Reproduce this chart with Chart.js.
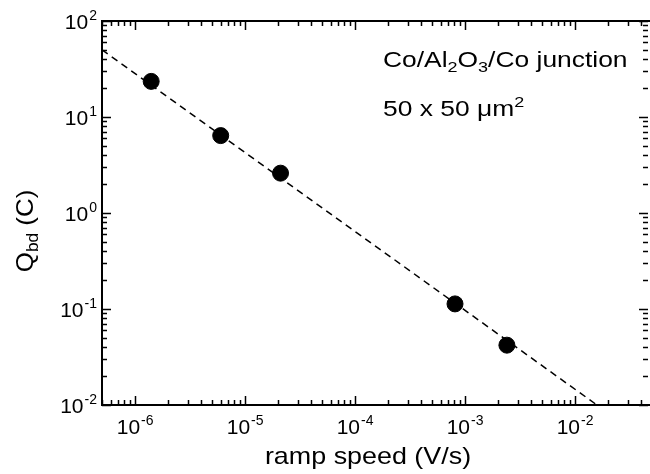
<!DOCTYPE html>
<html>
<head>
    <title>Qbd vs ramp speed</title>
    <script src="https://cdn.jsdelivr.net/npm/chart.js"></script>
    <style>
        body { margin: 0; background: #fff; }
    </style>
</head>
<body>
<canvas id="myChart" width="650" height="474"></canvas>
<script>
    // measured points
    var rampSpeed = [1.4e-6, 6.0e-6, 2.1e-5, 8.1e-4, 2.4e-3];
    var qbd = [23.5, 6.4, 2.6, 0.113, 0.042];
    // dashed fit line, end points
    var fitX = [5e-7, 1.58e-2];
    var fitY = [50, 0.01];
    // decade labels (powers of ten)
    var xTickExp = [-6, -5, -4, -3, -2];
    var yTickExp = [-2, -1, 0, 1, 2];

    var FONT = 'Liberation Sans, Arial, Helvetica, sans-serif';

    // draws a list of [text, size, dy] pieces in a row, stretched by sx, returns end x
    function drawRuns(ctx, runs, x, y, sx) {
        runs.forEach(function (r) {
            ctx.font = r[1] + 'px ' + FONT;
            ctx.save();
            ctx.translate(x, y + r[2]);
            ctx.scale(sx, 1);
            ctx.fillText(r[0], 0, 0);
            ctx.restore();
            x += ctx.measureText(r[0]).width * sx;
        });
        return x;
    }
    function runsWidth(ctx, runs, sx) {
        var w = 0;
        runs.forEach(function (r) {
            ctx.font = r[1] + 'px ' + FONT;
            w += ctx.measureText(r[0]).width * sx;
        });
        return w;
    }

    function drawPower(ctx, exp, x, y, align) {
        var runs = [['10', 21, 7], [String(exp), 14, -2]];
        var w = runsWidth(ctx, runs, 1) + 1;
        var x0 = align === 'right' ? x - w : x - w / 2;
        ctx.textAlign = 'left';
        ctx.textBaseline = 'alphabetic';
        drawRuns(ctx, [runs[0]], x0, y, 1);
        ctx.font = '21px ' + FONT;
        drawRuns(ctx, [runs[1]], x0 + ctx.measureText('10').width + 1, y, 1);
    }

    function logTicks(min, max) {
        var out = [];
        for (var d = Math.floor(Math.log10(min)); d <= Math.ceil(Math.log10(max)); d++) {
            for (var m = 1; m <= 9; m++) {
                var v = m * Math.pow(10, d);
                if (v >= min * 0.9999 && v <= max * 1.0001) out.push({ v: v, major: m === 1 });
            }
        }
        return out;
    }

    var framePlugin = {
        id: 'frame',
        afterDraw: function (chart) {
            var ctx = chart.ctx;
            var a = chart.chartArea;
            var xs = chart.scales.x, ys = chart.scales.y;
            ctx.save();
            ctx.strokeStyle = '#000';
            ctx.fillStyle = '#000';

            // frame (right side sits on the image edge)
            ctx.lineWidth = 2;
            ctx.beginPath();
            ctx.moveTo(a.right, a.top);
            ctx.lineTo(a.left, a.top);
            ctx.lineTo(a.left, a.bottom);
            ctx.lineTo(a.right, a.bottom);
            ctx.stroke();

            // ticks
            ctx.lineWidth = 1.5;
            logTicks(xs.min, xs.max).forEach(function (t) {
                var px = Math.round(xs.getPixelForValue(t.v)) + 0.5;
                var len = t.major ? 9 : 5;
                ctx.beginPath();
                ctx.moveTo(px, a.bottom); ctx.lineTo(px, a.bottom - len);
                ctx.moveTo(px, a.top); ctx.lineTo(px, a.top + len);
                ctx.stroke();
            });
            logTicks(ys.min, ys.max).forEach(function (t) {
                var py = Math.round(ys.getPixelForValue(t.v)) + 0.5;
                var len = t.major ? 9 : 5;
                ctx.beginPath();
                ctx.moveTo(a.left, py); ctx.lineTo(a.left + len, py);
                ctx.moveTo(a.right - 2, py); ctx.lineTo(a.right - 2 - len, py);
                ctx.stroke();
            });

            // tick labels
            xTickExp.forEach(function (e) {
                drawPower(ctx, e, xs.getPixelForValue(Math.pow(10, e)), a.bottom + 22, 'center');
            });
            yTickExp.forEach(function (e) {
                drawPower(ctx, e, a.left - 5, ys.getPixelForValue(Math.pow(10, e)) + 1, 'right');
            });

            ctx.textAlign = 'left';
            ctx.textBaseline = 'alphabetic';

            // x title
            var xt = [['ramp speed (V/s)', 24, 0]];
            var w = runsWidth(ctx, xt, 1.12);
            drawRuns(ctx, xt, 368 - w / 2, 464, 1.12);

            // y title, rotated
            ctx.save();
            ctx.translate(33, 231);
            ctx.rotate(-Math.PI / 2);
            var yt = [['Q', 24, 0], ['bd', 16, 5], [' (C)', 24, 0]];
            w = runsWidth(ctx, yt, 1.08);
            drawRuns(ctx, yt, -w / 2, 0, 1.08);
            ctx.restore();

            // annotation
            drawRuns(ctx, [['Co/Al', 22, 0], ['2', 15, 5], ['O', 22, 0], ['3', 15, 5], ['/Co junction', 22, 0]], 383, 67, 1.2);
            drawRuns(ctx, [['50 x 50 \u03bcm', 22, 0], ['2', 15, -9]], 383, 116, 1.2);
            ctx.restore();
        }
    };

    var ctx = document.getElementById('myChart').getContext('2d');
    var chart = new Chart(ctx, {
        type: 'scatter',
        data: {
            datasets: [{
                label: 'fit',
                data: fitX.map(function (x, i) { return { x: x, y: fitY[i] }; }),
                showLine: true,
                borderColor: '#000',
                borderWidth: 1.5,
                borderDash: [7, 5],
                pointRadius: 0
            }, {
                label: 'Qbd',
                data: rampSpeed.map(function (x, i) { return { x: x, y: qbd[i] }; }),
                backgroundColor: '#000',
                borderColor: '#000',
                pointRadius: 8,
                pointHoverRadius: 8
            }]
        },
        options: {
            responsive: false,
            animation: false,
            layout: { autoPadding: false, padding: { left: 102, top: 21, right: 0, bottom: 69 } },
            plugins: { legend: { display: false }, tooltip: { enabled: false } },
            scales: {
                x: { type: 'logarithmic', min: 5e-7, max: 0.048, display: false },
                y: { type: 'logarithmic', min: 0.01, max: 100, display: false }
            }
        },
        plugins: [framePlugin]
    });
</script>
</body>
</html>
